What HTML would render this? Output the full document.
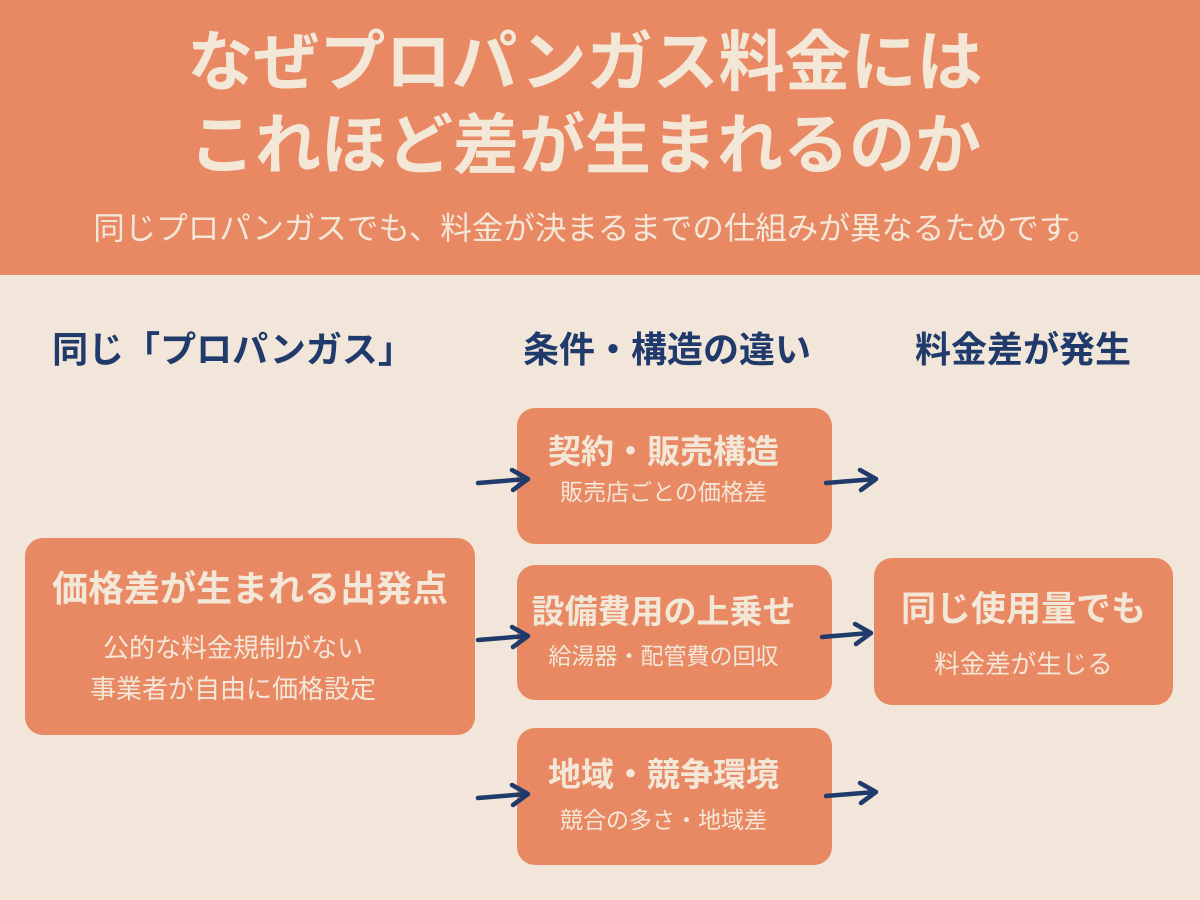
<!DOCTYPE html>
<html><head><meta charset="utf-8"><style>
body{margin:0;width:1200px;height:900px;background:#F1E6D9;font-family:"Liberation Sans","Noto Sans CJK JP",sans-serif;position:relative;overflow:hidden}
.hd{position:absolute;left:0;top:0;width:1200px;height:275px;background:#E98964}
.t{position:absolute;left:0;width:1170px;text-align:center;color:#F3E7D8;font-weight:bold;font-size:66px;line-height:80px}
.sub{position:absolute;left:0;width:1192px;top:208px;text-align:center;color:#F3E7D8;font-size:31.5px;line-height:40px}
.ch{position:absolute;top:326px;color:#1F3A6B;font-weight:bold;font-size:36px;line-height:48px;text-align:center;white-space:nowrap}
.b{position:absolute;background:#E98964;border-radius:18px;color:#F3E7D8;text-align:center;white-space:nowrap}
.b .m{font-weight:bold;font-size:33px}
.b .s{font-size:23px}
svg{position:absolute;left:0;top:0}
</style></head><body>
<div class="hd"></div>
<div class="t" style="top:22px">なぜプロパンガス料金には</div>
<div class="t" style="top:105px">これほど差が生まれるのか</div>
<div class="sub">同じプロパンガスでも、料金が決まるまでの仕組みが異なるためです。</div>
<div class="ch" style="left:33px;width:400px">同じ「プロパンガス」</div>
<div class="ch" style="left:467px;width:400px">条件・構造の違い</div>
<div class="ch" style="left:873px;width:300px">料金差が発生</div>

<div class="b" style="left:25px;top:538px;width:450px;height:197px">
<div class="m" style="margin-top:28px;line-height:46px;font-size:36px">価格差が生まれる出発点</div>
<div class="s" style="margin-top:16px;line-height:41px;font-size:26px;margin-left:-34px">公的な料金規制がない<br>事業者が自由に価格設定</div></div>

<div class="b" style="left:517px;top:408px;width:315px;height:136px">
<div class="m" style="margin-top:24px;line-height:40px;margin-left:-22px">契約・販売構造</div>
<div class="s" style="margin-top:5px;line-height:30px;margin-left:-22px">販売店ごとの価格差</div></div>
<div class="b" style="left:517px;top:565px;width:315px;height:135px">
<div class="m" style="margin-top:26px;line-height:42px;margin-left:-22px">設備費用の上乗せ</div>
<div class="s" style="margin-top:8px;line-height:30px;margin-left:-22px">給湯器・配管費の回収</div></div>
<div class="b" style="left:517px;top:728px;width:315px;height:137px">
<div class="m" style="margin-top:26px;line-height:42px;margin-left:-22px">地域・競争環境</div>
<div class="s" style="margin-top:9px;line-height:30px;margin-left:-22px">競合の多さ・地域差</div></div>

<div class="b" style="left:874px;top:558px;width:299px;height:147px">
<div class="m" style="margin-top:30px;line-height:44px;font-size:35px">同じ使用量でも</div>
<div class="s" style="margin-top:18px;line-height:30px;font-size:25.5px">料金差が生じる</div></div>

<svg width="1200" height="900" fill="none" stroke="#1F3A6B" stroke-width="4.5" stroke-linecap="round" stroke-linejoin="round">
<path d="M478 483 L527 479 M512 470 L528 479 L513 490"/>
<path d="M478 640 L527 636 M512 627 L528 636 L513 647"/>
<path d="M478 798 L527 794 M512 785 L528 794 L513 805"/>
<path d="M826 483 L875 479 M860 470 L876 479 L861 490"/>
<path d="M822 637 L870 633 M855 624 L871 633 L856 644"/>
<path d="M826 796 L875 792 M860 783 L876 792 L861 803"/>
</svg>
</body></html>
